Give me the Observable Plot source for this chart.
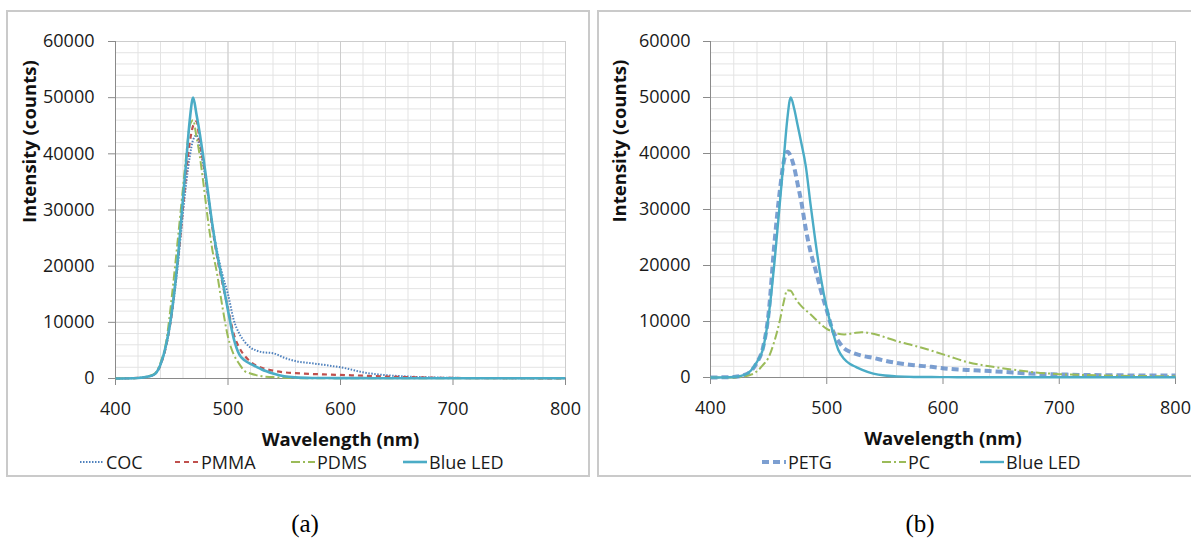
<!DOCTYPE html>
<html><head><meta charset="utf-8">
<script src="https://cdn.jsdelivr.net/npm/d3@7"></script>
<script src="https://cdn.jsdelivr.net/npm/@observablehq/plot@0.6"></script>
<style>
body{margin:0;background:#fff;width:1191px;height:539px;overflow:hidden;position:relative;font-family:'Open Sans',sans-serif;}
.box{position:absolute;border:2px solid #cacaca;box-sizing:border-box;}
.chart{position:absolute;top:0;}
.leg{position:absolute;display:flex;align-items:center;font-size:18px;color:#1a1a1a;white-space:nowrap;height:24px;}
.leg svg{display:block;}
.cap{position:absolute;font-family:'Liberation Serif',serif;font-size:25px;color:#000;transform:translateX(-50%);}
</style></head><body>
<div class="box" style="left:6px;top:10px;width:584px;height:467px"></div>
<div class="box" style="left:597px;top:10px;width:620px;height:467px"></div>
<div id="a" class="chart" style="left:0px"></div>
<div id="b" class="chart" style="left:598px"></div>
<div id="legA"></div>
<div id="legB"></div>
<div class="cap" style="left:305px;top:510px">(a)</div>
<div class="cap" style="left:920px;top:510px">(b)</div>
<script>
// ---------- data ----------
const xTicks = [400, 500, 600, 700, 800];
const yTicks = [0, 10000, 20000, 30000, 40000, 50000, 60000];
const xLabel = "Wavelength (nm)";
const yLabel = "Intensity (counts)";

// Panel (a)
const wlA   = [400,420,430,435,440,445,450,455,460,463,466,469,472,475,478,482,486,490,495,500,505,510,515,520,525,530,540,550,560,575,590,605,620,640,660,680,700,750,800];
const cocA  = [0,100,400,800,2400,5800,11500,19500,29500,35000,39500,42500,43300,41000,38000,33000,27500,23000,18500,15000,10500,8000,6500,5500,5000,4700,4500,3700,3100,2700,2300,1800,1100,600,350,200,120,60,40];
const pmmaA = [0,100,400,800,2400,5800,11500,20000,30500,37000,42000,45000,45800,42000,38500,33000,27000,22000,17000,12500,8000,5500,4000,3000,2300,1900,1400,1100,950,800,700,600,500,350,250,150,100,50,30];
const pdmsA = [0,100,450,900,2800,6500,14500,24000,34000,40000,45000,46000,43000,39500,35000,28500,23000,19000,12800,7400,4300,2600,1300,900,600,400,250,120,70,50,40,40,40,40,40,40,40,40,40];
const ledA  = [0,100,400,800,2500,6000,11800,20500,32000,39000,46000,50000,47000,43500,39500,33500,27500,22500,17500,12100,7200,4300,3200,2600,2100,1600,900,400,200,100,80,60,60,50,50,50,50,50,50];

// Panel (b)
const wlB   = [400,420,430,435,440,445,450,455,460,463,466,469,472,475,478,482,486,490,495,500,505,510,515,520,525,530,540,550,560,575,590,605,620,640,660,680,700,720,750,775,800];
const petgB = [0,100,500,1200,2700,5200,11500,24000,34000,38500,40300,39500,37500,34500,31500,26500,22500,19500,15500,12000,8500,6500,5200,4600,4200,3900,3500,3000,2600,2200,1900,1550,1350,1150,900,650,550,450,400,350,350];
const pcB   = [0,0,200,500,1100,2200,3600,6500,10500,13500,15600,15500,14500,13500,12800,12000,11300,10500,9500,8700,8200,7800,7700,7800,8000,8100,7800,7200,6500,5700,4800,3800,2800,2000,1400,900,600,450,300,250,200];
const ledB  = [0,100,500,1300,2800,5000,11000,20500,32000,39000,46000,50000,48000,45000,42000,37700,31000,24700,17700,12400,8300,4900,3300,2400,1900,1400,700,350,200,100,80,60,50,50,50,50,50,50,50,50,50];

// ---------- styles ----------
const C = {coc:"#4f81bd", pmma:"#c0504d", pdms:"#9bbb59", led:"#4bacc6", petg:"#5b87c6", pc:"#9bbb59"};
const seriesA = [
  {name:"COC", v:cocA, stroke:C.coc, w:2, dash:"1.5 1.5", op:1},
  {name:"PMMA", v:pmmaA, stroke:C.pmma, w:2.2, dash:"5 4", op:1},
  {name:"PDMS", v:pdmsA, stroke:C.pdms, w:2, dash:"9 3 2 3", op:1},
  {name:"Blue LED", v:ledA, stroke:C.led, w:2.6, dash:null, op:1}
];
const seriesB = [
  {name:"PETG", v:petgB, stroke:C.petg, w:4, dash:"7 4", op:0.8},
  {name:"PC", v:pcB, stroke:C.pc, w:2, dash:"9 3 2 3", op:1},
  {name:"Blue LED", v:ledB, stroke:C.led, w:2.4, dash:null, op:1}
];

const minorX = d3.range(400, 801, 20);
const minorY = d3.range(0, 60001, 2000);

function panel(wl, series, L) {
  return Plot.plot({
    width: L.width, height: 450,
    marginLeft: L.ml, marginRight: L.mr, marginTop: 41, marginBottom: L.mb,
    x: {domain: [xTicks[0], xTicks[xTicks.length-1]]},
    y: {domain: [yTicks[0], yTicks[yTicks.length-1]]},
    style: {fontFamily: "'Open Sans', sans-serif", fontSize: "18px", color: "#1a1a1a", background: "transparent", overflow: "visible"},
    marks: [
      Plot.gridX(minorX, {stroke: "#e3e3e3", strokeOpacity: 1}),
      Plot.gridY(minorY, {stroke: "#e3e3e3", strokeOpacity: 1}),
      Plot.gridX(xTicks, {stroke: "#cdcdcd", strokeOpacity: 1}),
      Plot.gridY(yTicks, {stroke: "#cdcdcd", strokeOpacity: 1}),
      Plot.ruleY([yTicks[0]], {stroke: "#8a8a8a"}),
      Plot.ruleX([xTicks[0]], {stroke: "#8a8a8a"}),
      Plot.axisX(xTicks, {tickSize: 7, tickPadding: 17, stroke: "#8a8a8a", fill: "#1a1a1a", label: null, tickFormat: d => String(d)}),
      Plot.axisY(yTicks, {tickSize: 7, tickPadding: L.tp, stroke: "#8a8a8a", fill: "#1a1a1a", label: null, tickFormat: d => String(d)}),
      ...series.map(s => Plot.line(wl, {
        x: d => d, y: (d, i) => s.v[i],
        stroke: s.stroke, strokeWidth: s.w, strokeOpacity: s.op,
        strokeDasharray: s.dash || undefined, strokeLinecap: "butt",
        curve: "monotone-x"
      })),
      Plot.text([xLabel], {text: d => d, frameAnchor: "bottom", dy: 67, fontWeight: "bold", fontSize: 18.5, fill: "#111"}),
      Plot.text([yLabel], {text: d => d, frameAnchor: "left", dx: L.ydx, dy: 13, rotate: -90, fontWeight: "bold", fontSize: 18.5, fill: "#111"})
    ]
  });
}

document.getElementById("a").append(panel(wlA, seriesA, {width: 590, ml: 115, mr: 25, mb: 72, tp: 14, ydx: -85}));
document.getElementById("b").append(panel(wlB, seriesB, {width: 593, ml: 112, mr: 16, mb: 73, tp: 13, ydx: -90}));

function legend(el, series, xs) {
  series.forEach((s, k) => {
    const d = document.createElement("div");
    d.className = "leg";
    d.style.left = xs[k] + "px";
    d.style.top = "450px";
    d.innerHTML = `<svg width="24" height="12"><line x1="0" x2="24" y1="6" y2="6" stroke="${s.stroke}" stroke-width="${s.w}" stroke-opacity="${s.op}" ${s.dash ? `stroke-dasharray="${s.dash}"` : ""}/></svg><span style="margin-left:2px">${s.name}</span>`;
    el.append(d);
  });
}
legend(document.getElementById("legA"), seriesA, [80, 175, 291, 403]);
legend(document.getElementById("legB"), seriesB, [762, 882, 980]);
</script>
</body></html>
